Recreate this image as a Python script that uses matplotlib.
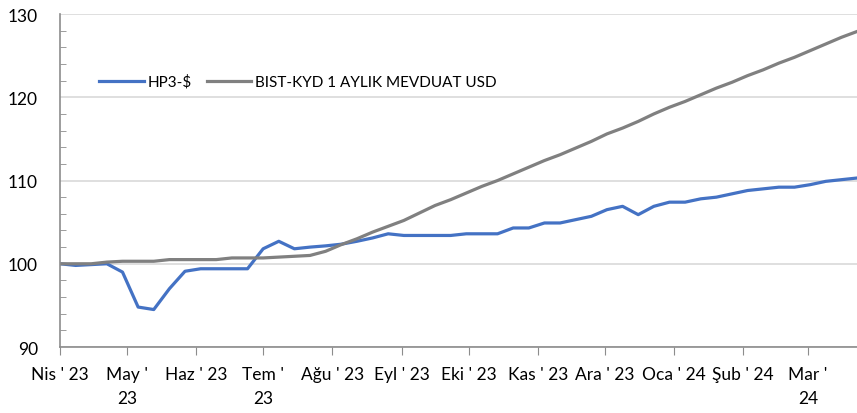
import numpy as np
import pandas as pd
import matplotlib
matplotlib.use("Agg")
import matplotlib.pyplot as plt
import matplotlib.dates as mdates
from matplotlib.ticker import MultipleLocator

plt.rcParams["font.family"] = ["Lato", "DejaVu Sans"]

dates = pd.date_range("2023-04-01", periods=52, freq="7D")

hp3_usd = [
    100.0, 99.8, 99.9, 100.0, 99.0, 94.8, 94.5, 97.0, 99.1, 99.4,
    99.4, 99.4, 99.4, 101.8, 102.7, 101.8, 102.0, 102.15, 102.35, 102.7,
    103.1, 103.6, 103.4, 103.4, 103.4, 103.4, 103.6, 103.6, 103.6, 104.3,
    104.3, 104.9, 104.9, 105.3, 105.7, 106.5, 106.9, 105.9, 106.9, 107.4,
    107.4, 107.8, 108.0, 108.4, 108.8, 109.0, 109.2, 109.2, 109.5, 109.9,
    110.1, 110.3,
]
bist_kyd_usd = [
    100.0, 100.0, 100.0, 100.2, 100.3, 100.3, 100.3, 100.5, 100.5, 100.5,
    100.5, 100.7, 100.7, 100.7, 100.8, 100.9, 101.0, 101.5, 102.3, 103.0,
    103.8, 104.5, 105.2, 106.1, 107.0, 107.7, 108.5, 109.3, 110.0, 110.8,
    111.6, 112.4, 113.1, 113.9, 114.7, 115.6, 116.3, 117.1, 118.0, 118.8,
    119.5, 120.3, 121.1, 121.8, 122.6, 123.3, 124.1, 124.8, 125.6, 126.4,
    127.2, 127.9,
]

month_ticks = pd.date_range("2023-04-01", "2024-03-01", freq="MS")
month_labels = [
    "Nis ' 23", "May '\n23", "Haz ' 23", "Tem '\n23", "Ağu ' 23", "Eyl ' 23",
    "Eki ' 23", "Kas ' 23", "Ara ' 23", "Oca ' 24", "Şub ' 24", "Mar '\n24",
]

BLUE = "#4472C4"
GREY = "#808080"
AXIS = "#8c8c8c"

fig = plt.figure(figsize=(8.57, 4.14), dpi=100)
ax = fig.add_axes([0.070, 0.1594, 0.930, 0.8043])

ax.plot(dates, hp3_usd, color=BLUE, lw=2.3, label="HP3-$", solid_joinstyle="round")
ax.plot(dates, bist_kyd_usd, color=GREY, lw=2.3, label="BIST-KYD 1 AYLIK MEVDUAT USD",
        solid_joinstyle="round")

ax.set_xlim(dates[0], dates[-1])
ax.set_ylim(90, 130)
ax.yaxis.set_major_locator(MultipleLocator(10))
ax.yaxis.set_minor_locator(MultipleLocator(2))
ax.grid(axis="y", which="major", color="#d9d9d9", lw=1.2)
ax.set_axisbelow(True)

ax.set_xticks(month_ticks)
ax.set_xticklabels(month_labels, fontsize=12.5, linespacing=1.55)
ax.tick_params(axis="x", direction="out", length=6, color=AXIS, pad=8)
ax.tick_params(axis="y", which="major", length=0, labelsize=12.5, pad=16)
ax.tick_params(axis="y", which="minor", direction="in", length=4, color=AXIS)

for side in ("top", "right"):
    ax.spines[side].set_visible(False)
for side in ("left", "bottom"):
    ax.spines[side].set_color(AXIS)
    ax.spines[side].set_linewidth(1.2)

ax.legend(loc="upper left", bbox_to_anchor=(0.032, 0.86), ncol=2, frameon=False,
          fontsize=11, handlelength=2.9, handletextpad=0.25, columnspacing=1.0)

fig.savefig("out.png", dpi=100)
